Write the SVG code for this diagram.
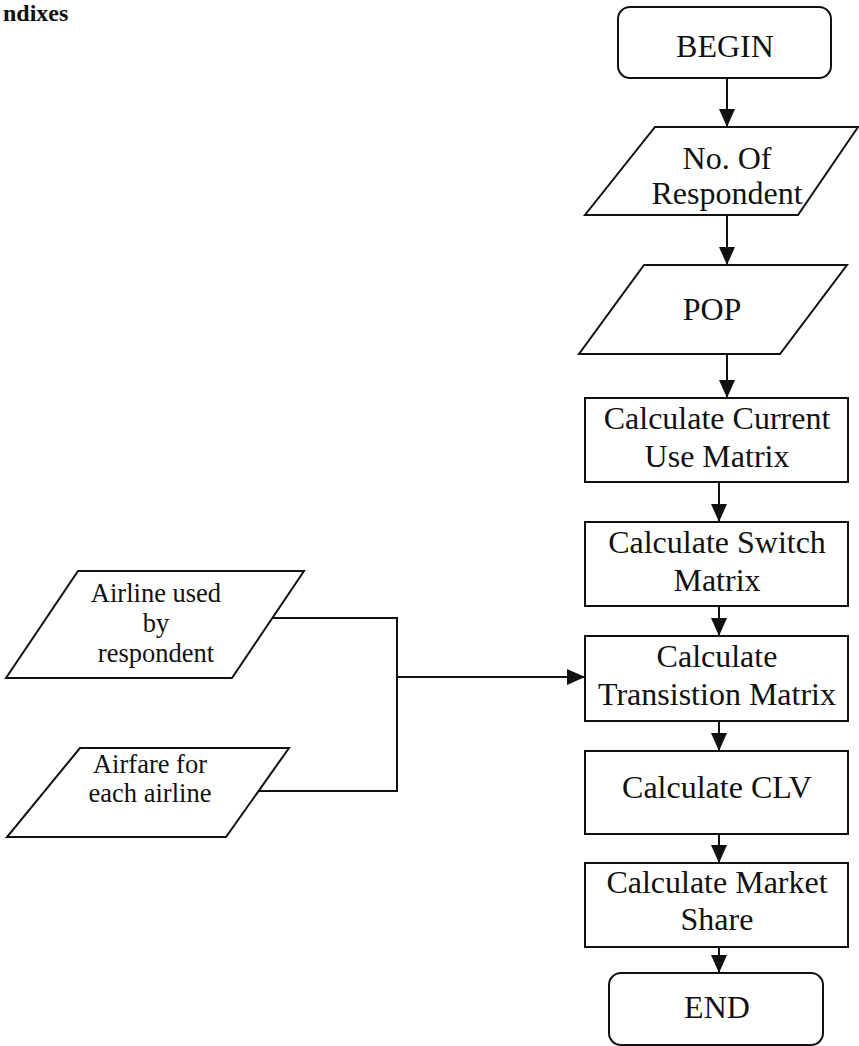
<svg xmlns="http://www.w3.org/2000/svg" width="859" height="1046" viewBox="0 0 859 1046">
<style>
.s{fill:#fff;stroke:#111;stroke-width:2}
.t{font-family:"Liberation Serif","Times New Roman",serif;font-size:32px;fill:#111;text-anchor:middle}
.ts{font-family:"Liberation Serif","Times New Roman",serif;font-size:26.5px;fill:#111;text-anchor:middle}
.c{fill:none;stroke:#111;stroke-width:2}
</style>
<defs>
<marker id="ah" markerUnits="userSpaceOnUse" markerWidth="18" markerHeight="16" refX="18" refY="8" orient="auto">
<path d="M0,0 L18,8 L0,16 Z" fill="#111"/>
</marker>
</defs>
<rect width="859" height="1046" fill="#fff"/>
<text x="3" y="21" font-family="Liberation Serif,serif" font-weight="bold" font-size="24" fill="#111">ndixes</text>

<g id="connectors">
<line class="c" x1="727" y1="78" x2="727" y2="127" marker-end="url(#ah)"/>
<line class="c" x1="727" y1="215" x2="727" y2="265" marker-end="url(#ah)"/>
<line class="c" x1="727" y1="354" x2="727" y2="398" marker-end="url(#ah)"/>
<line class="c" x1="719" y1="482" x2="719" y2="522" marker-end="url(#ah)"/>
<line class="c" x1="719" y1="606" x2="719" y2="636" marker-end="url(#ah)"/>
<line class="c" x1="719" y1="721" x2="719" y2="751" marker-end="url(#ah)"/>
<line class="c" x1="719" y1="834" x2="719" y2="863" marker-end="url(#ah)"/>
<line class="c" x1="719" y1="947" x2="719" y2="973" marker-end="url(#ah)"/>
<polyline class="c" points="272,618 397,618 397,791 257,791"/>
<line class="c" x1="397" y1="677" x2="585" y2="677" marker-end="url(#ah)"/>
</g>

<g id="begin">
<rect class="s" x="618" y="7" width="213" height="71" rx="12"/>
<text class="t" x="725" y="57">BEGIN</text>
</g>
<g id="respondents">
<polygon class="s" points="655,127 858,127 798,215 585,215"/>
<text class="t" x="727" y="169">No. Of</text>
<text class="t" x="727" y="204">Respondent</text>
</g>
<g id="pop">
<polygon class="s" points="644,265 847,265 780,354 579,354"/>
<text class="t" x="712" y="320">POP</text>
</g>
<g id="current-use">
<rect class="s" x="585" y="398" width="263" height="84"/>
<text class="t" x="717" y="429">Calculate Current</text>
<text class="t" x="717" y="467">Use Matrix</text>
</g>
<g id="switch">
<rect class="s" x="585" y="522" width="263" height="84"/>
<text class="t" x="717" y="553">Calculate Switch</text>
<text class="t" x="717" y="591">Matrix</text>
</g>
<g id="transition">
<rect class="s" x="585" y="636" width="263" height="85"/>
<text class="t" x="717" y="667">Calculate</text>
<text class="t" x="717" y="705">Transistion Matrix</text>
</g>
<g id="clv">
<rect class="s" x="585" y="751" width="263" height="83"/>
<text class="t" x="717" y="798">Calculate CLV</text>
</g>
<g id="market-share">
<rect class="s" x="585" y="863" width="263" height="84"/>
<text class="t" x="717" y="893">Calculate Market</text>
<text class="t" x="717" y="930">Share</text>
</g>
<g id="end">
<rect class="s" x="609" y="973" width="214" height="72" rx="12"/>
<text class="t" x="717" y="1018">END</text>
</g>
<g id="airline-used">
<polygon class="s" points="78,571 304,571 232,678 6,678"/>
<text class="ts" x="156" y="602">Airline used</text>
<text class="ts" x="156" y="632">by</text>
<text class="ts" x="156" y="662">respondent</text>
</g>
<g id="airfare">
<polygon class="s" points="80,748 289,748 226,837 7,837"/>
<text class="ts" x="150" y="773">Airfare for</text>
<text class="ts" x="150" y="802">each airline</text>
</g>
</svg>
